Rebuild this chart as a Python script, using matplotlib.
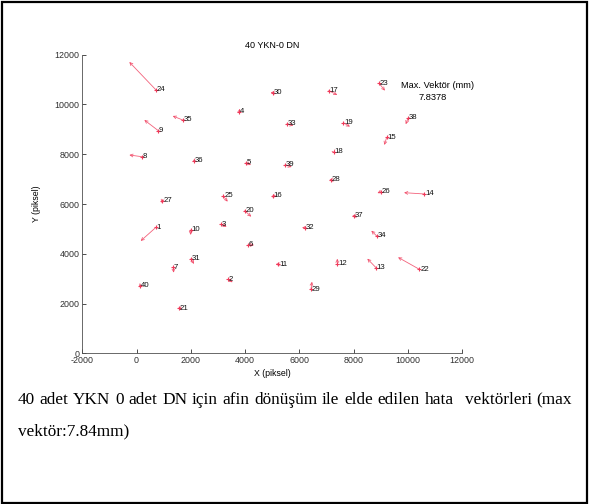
import matplotlib
matplotlib.use("Agg")
import matplotlib.pyplot as plt
from matplotlib.patches import Rectangle

plt.rcParams['font.family'] = ['Liberation Sans', 'DejaVu Sans']
plt.rcParams['axes.unicode_minus'] = False

# ---- data ----
point_ids = list(range(1, 41))
px = [715, 3379, 3099, 3784, 4031, 4105, 1352, 188, 800, 1993,
      5222, 7395, 8821, 10601, 9215, 5015, 7078, 7273, 7616, 3982,
      1573, 10417, 8932, 715, 3196, 8993, 948, 7163, 6426, 5015,
      2004, 6205, 5530, 8846, 1698, 2115, 7996, 10011, 5468, 125]
py = [5064, 2974, 5185, 9711, 7661, 4353, 3456, 7902, 8947, 4956,
      3577, 3589, 3441, 6403, 8682, 6335, 10555, 8103, 9268, 5731,
      1808, 3376, 10852, 10583, 6322, 6496, 6135, 6965, 2584, 10474,
      3802, 5048, 9216, 4715, 9377, 7729, 5518, 9470, 7568, 2705]
# scaled error vector components (plot units)
vx = [-565, 162, 221, 20, 184, 221, 15, -457, -516, 0,
      -100, 0, -321, -748, -88, 150, 317, 50, 246, 244,
      -60, -785, 220, -984, 161, -120, -20, -60, 37, -80,
      111, -110, 250, -198, -368, -60, -40, -96, 250, -40]
vy = [-550, -120, -94, 120, -94, 0, -216, 68, 430, -200,
      0, 213, 361, 52, -310, -40, -173, -80, -160, -241,
      0, 482, -297, 1125, -229, -60, -100, 0, 294, 0,
      -213, 0, -60, 213, 161, -40, 0, -266, -80, -60]

title = "40 YKN-0 DN"
max_label = "Max. Vektör (mm)"
max_value = "7.8378"
xlabel = "X (piksel)"
ylabel = "Y (piksel)"
xticks = [-2000, 0, 2000, 4000, 6000, 8000, 10000, 12000]
yticks = [0, 2000, 4000, 6000, 8000, 10000, 12000]
caption_line1 = "40 adet YKN 0 adet DN için afin dönüşüm ile elde edilen hata  vektörleri (max"
caption_line2 = "vektör:7.84mm)"

# ---- figure ----
W, H = 589, 504
fig = plt.figure(figsize=(W / 100, H / 100), dpi=100)
ax = fig.add_axes([82.3 / W, 1 - 353.3 / H, 380 / W, 298.6 / H])

red = '#f03a5a'
for i in range(len(px)):
    ax.annotate('', xy=(px[i] + vx[i], py[i] + vy[i]), xytext=(px[i], py[i]),
                arrowprops=dict(arrowstyle='->', color=red, lw=0.6, alpha=0.8,
                                mutation_scale=5, shrinkA=0, shrinkB=0))
ax.plot(px, py, '+', color=red, markersize=3.5, markeredgewidth=0.8)
for i, pid in enumerate(point_ids):
    ax.text(px[i] + 30, py[i], str(pid), fontsize=5.6, color='#111111',
            ha='left', va='center')

ax.text(9750, 10750, max_label, fontsize=6.7, ha='left', va='center')
ax.text(10400, 10300, max_value, fontsize=6.7, ha='left', va='center')

ax.set_xlim(-2000, 12000)
ax.set_ylim(0, 12000)
ax.set_xticks(xticks)
ax.set_yticks(yticks)
ax.tick_params(direction='in', length=3, width=0.6, labelsize=6.4, colors='#303030', pad=2)
for s in ['top', 'right']:
    ax.spines[s].set_visible(False)
for s in ['left', 'bottom']:
    ax.spines[s].set_linewidth(0.6)
    ax.spines[s].set_color('#505050')
ax.set_title(title, fontsize=6.5, pad=5)
ax.set_xlabel(xlabel, fontsize=6.3, labelpad=3)
ax.set_ylabel(ylabel, fontsize=6.3, labelpad=10)

# border
fig.patches.append(Rectangle((1.5 / W, 1.5 / H), 1 - 3.5 / W, 1 - 3.5 / H,
                             transform=fig.transFigure, fill=False,
                             edgecolor='black', lw=1.6))

# caption, justified line 1
serif = ['Liberation Serif', 'DejaVu Serif']
cfs = 12.4
left_px, right_px = 18, 572
y1 = 1 - 400 / H
y2 = 1 - 431 / H
words = [w for w in caption_line1.split(' ') if w != '']
fig.canvas.draw()
renderer = fig.canvas.get_renderer()
widths = []
tmp = []
for w in words:
    t = fig.text(0, 0, w, fontsize=cfs, family=serif)
    widths.append(t.get_window_extent(renderer).width)
    tmp.append(t)
for t in tmp:
    t.remove()
gap_weights = [1.0] * (len(words) - 1)
gap_weights[words.index('hata')] = 2.4
total_gap = (right_px - left_px) - sum(widths)
unit = total_gap / sum(gap_weights)
x = left_px
for i, w in enumerate(words):
    fig.text(x / W, y1, w, fontsize=cfs, family=serif, ha='left', va='center')
    if i < len(gap_weights):
        x += widths[i] + unit * gap_weights[i]
fig.text(left_px / W, y2, caption_line2, fontsize=cfs, family=serif, ha='left', va='center')

fig.savefig('out.png', dpi=100)
